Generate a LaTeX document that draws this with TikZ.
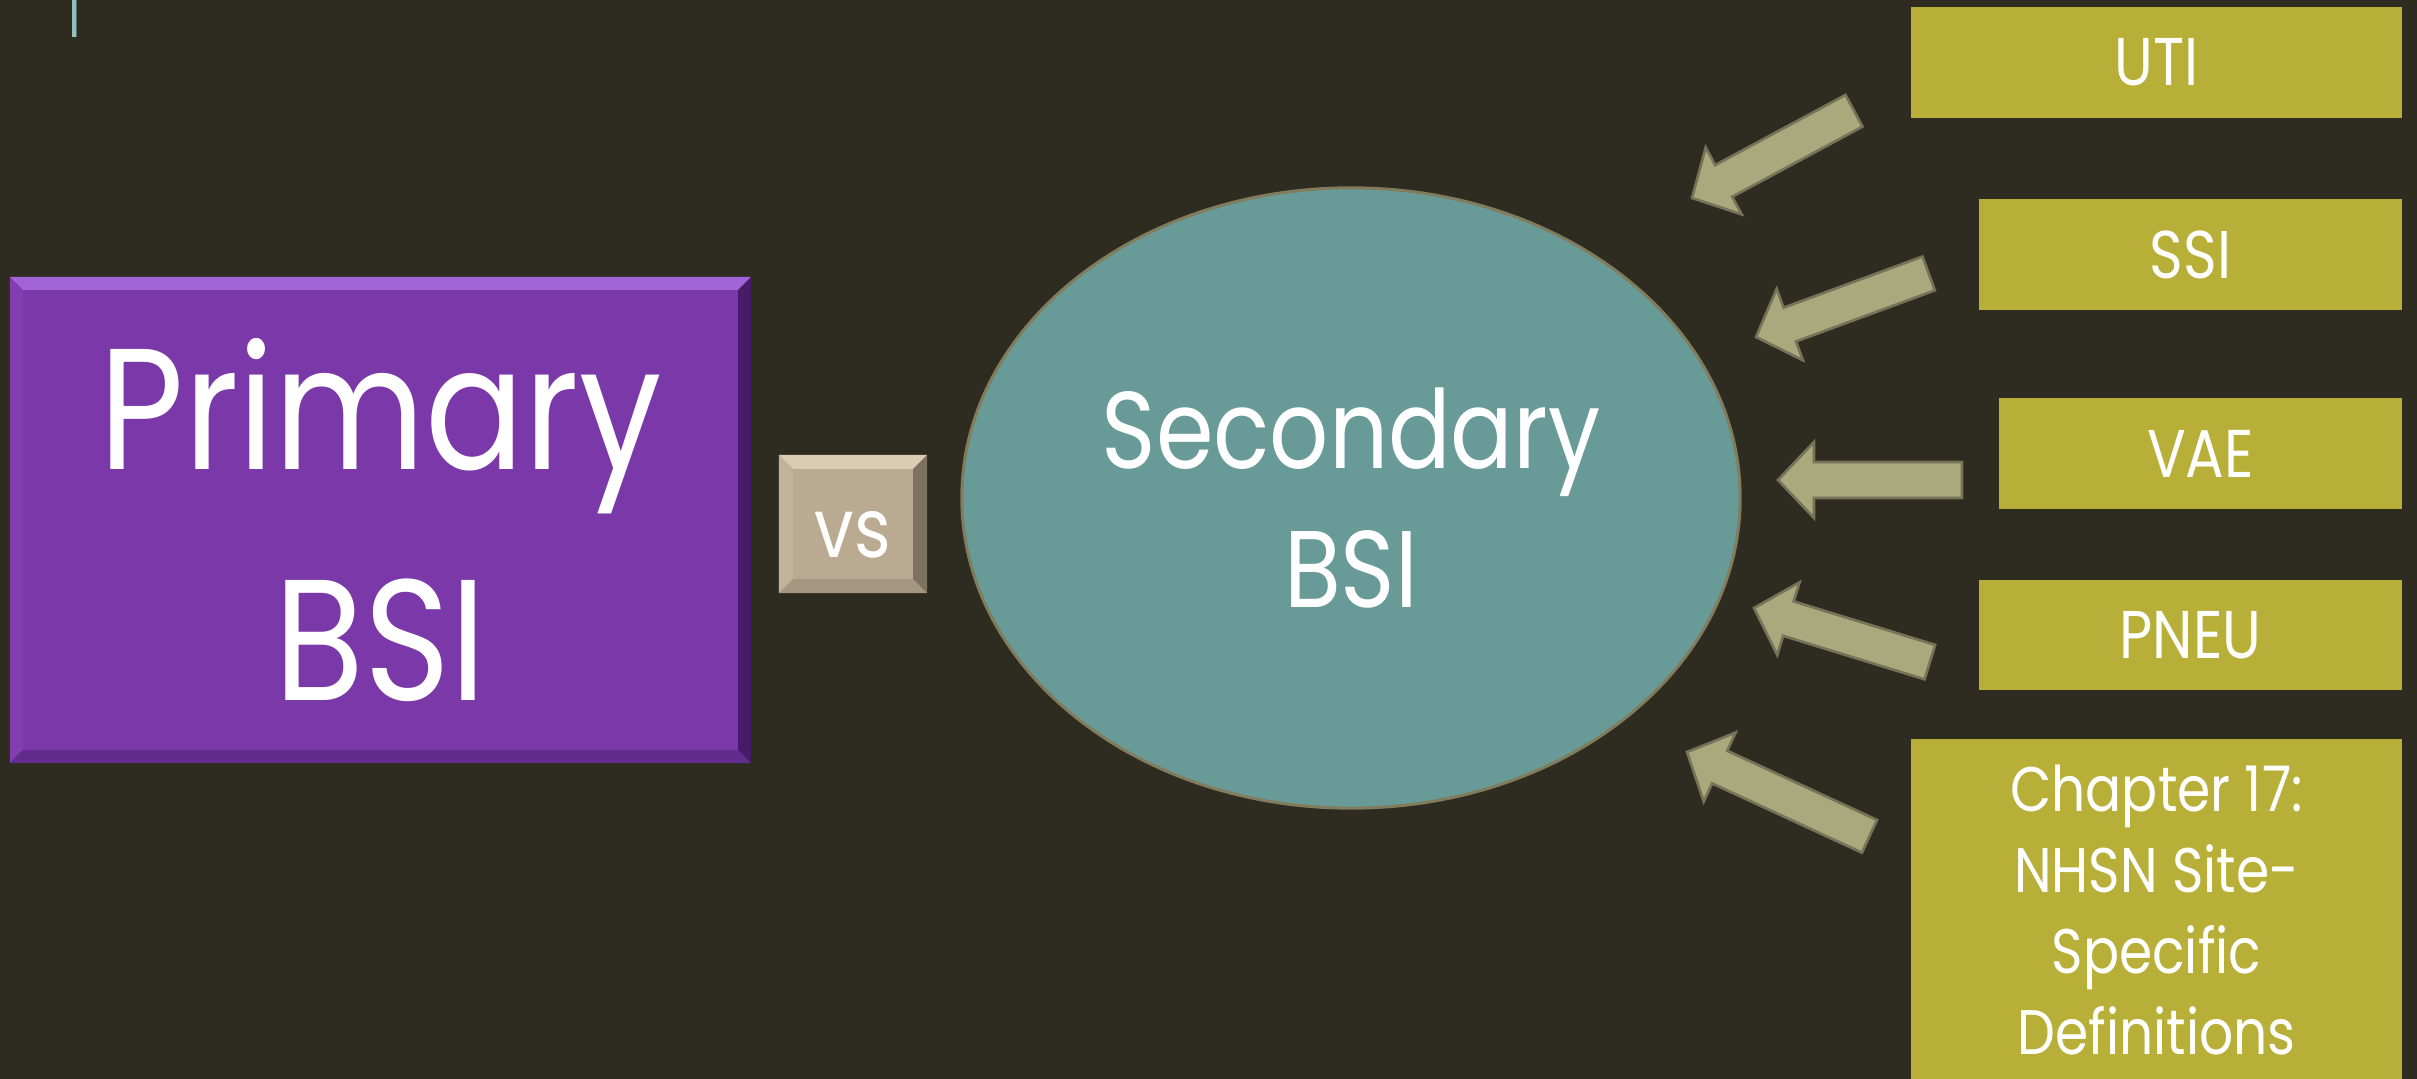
\documentclass[tikz,border=0pt]{standalone}
\usepackage{fontspec}
\setmainfont{Poppins}[FakeStretch=0.85]
\usetikzlibrary{shapes.geometric,calc}

\definecolor{bg}{RGB}{46,43,33}
\definecolor{purplebox}{RGB}{123,56,168}
\definecolor{purplelight}{RGB}{160,100,214}
\definecolor{purpleleft}{RGB}{130,62,176}
\definecolor{purplebottom}{RGB}{98,44,140}
\definecolor{purpleright}{RGB}{70,28,104}
\definecolor{tanbox}{RGB}{187,170,146}
\definecolor{tanlight}{RGB}{218,203,178}
\definecolor{tanleft}{RGB}{194,178,154}
\definecolor{tanbottom}{RGB}{165,150,127}
\definecolor{tanright}{RGB}{125,113,95}
\definecolor{tealfill}{RGB}{104,155,152}
\definecolor{tealedge}{RGB}{128,124,92}
\definecolor{olivebox}{RGB}{184,175,56}
\definecolor{arrowfill}{RGB}{170,168,125}
\definecolor{arrowedge}{RGB}{118,116,88}
\definecolor{barcol}{RGB}{150,190,188}

% bevelled rim around a rectangular node: node, rim size, top, left, right, bottom colours
\newcommand\bevelrim[6]{%
  \fill[#3] (#1.north west) -- (#1.north east) -- ($(#1.north east)+(-#2,#2)$) -- ($(#1.north west)+(#2,#2)$) -- cycle;
  \fill[#4] (#1.north west) -- ($(#1.north west)+(#2,#2)$) -- ($(#1.south west)+(#2,-#2)$) -- (#1.south west) -- cycle;
  \fill[#6] (#1.south west) -- ($(#1.south west)+(#2,-#2)$) -- ($(#1.south east)+(-#2,-#2)$) -- (#1.south east) -- cycle;
  \fill[#5] (#1.north east) -- (#1.south east) -- ($(#1.south east)+(-#2,-#2)$) -- ($(#1.north east)+(-#2,#2)$) -- cycle;
}

\tikzset{
  primbox/.style={rectangle, fill=purplebox, inner sep=0pt, outer sep=0pt,
    minimum width=7.41cm, minimum height=4.86cm, text=white, align=center,
    font=\fontsize{49}{65.7}\selectfont},
  vsbox/.style={rectangle, fill=tanbox, inner sep=0pt, outer sep=0pt,
    minimum width=1.48cm, minimum height=1.38cm, text=white,
    text height=0.66cm, text depth=0pt, font=\fontsize{23.5}{26}\selectfont},
  bsibubble/.style={ellipse, fill=tealfill, draw=tealedge, line width=0.85pt,
    inner sep=0pt, minimum width=7.78cm, minimum height=6.2cm, text=white,
    align=center, font=\fontsize{31}{39.3}\selectfont},
  catbox/.style={rectangle, fill=olivebox, inner sep=0pt, outer sep=0pt,
    minimum height=1.11cm, text=white, align=center,
    font=\fontsize{19.2}{23}\selectfont},
  arrowshape/.style={fill=arrowfill, draw=arrowedge, line width=0.75pt, line join=miter},
  pics/blockarrow/.style={code={
    \draw[arrowshape] (0,0) -- (36,-38) -- (36,-18) -- (#1,-18) -- (#1,18)
      -- (36,18) -- (36,38) -- cycle;}}
}

\begin{document}
\begin{tikzpicture}[x=0.01cm, y=-0.01cm]
  % page and background
  \useasboundingbox (0,0) rectangle (2417,1079);
  \fill[bg] (0,0) rectangle (2417,1079);
  \fill[barcol] (72,0) rectangle (77,37);
  \fill[barcol!60!black] (76,0) rectangle (77,37);

  % primary BSI block
  \node[primbox] (primary) at (380.5,520) {Primary\\BSI};
  \bevelrim{primary}{13}{purplelight}{purpleleft}{purpleright}{purplebottom}

  % versus tile
  \node[vsbox] (vs) at (853,524) {vs};
  \bevelrim{vs}{14}{tanlight}{tanleft}{tanright}{tanbottom}

  % secondary BSI bubble
  \node[bsibubble] (secondary) at (1351,498) {Secondary\\BSI};

  % infection categories
  \node[catbox, minimum width=4.91cm] (uti) at (2156.5,62.5) {UTI};
  \node[catbox, minimum width=4.23cm] (ssi) at (2190.5,254.5) {SSI};
  \node[catbox, minimum width=4.03cm] (vae) at (2200.5,453.5) {VAE};
  \node[catbox, minimum width=4.23cm, minimum height=1.10cm] (pneu) at (2190.5,635) {PNEU};
  \node[catbox, minimum width=4.91cm, minimum height=3.42cm,
    font=\fontsize{17.9}{23.05}\selectfont] (chap) at (2156.5,910)
    {Chapter 17:\\NHSN Site-\\Specific\\Definitions};

  % block arrows pointing at the bubble
  \coordinate (tiputi) at (1692,198);
  \coordinate (tipssi) at (1756,337);
  \coordinate (tipvae) at (1778,480);
  \coordinate (tippneu) at (1754,608);
  \coordinate (tipchap) at (1687,752);
  \pic[rotate=28.3] at (tiputi) {blockarrow=184};
  \pic[rotate=20.2] at (tipssi) {blockarrow=184};
  \pic[rotate=0] at (tipvae) {blockarrow=184};
  \pic[rotate=-17.1] at (tippneu) {blockarrow=184};
  \pic[rotate=-24.8] at (tipchap) {blockarrow=201};
\end{tikzpicture}
\end{document}
